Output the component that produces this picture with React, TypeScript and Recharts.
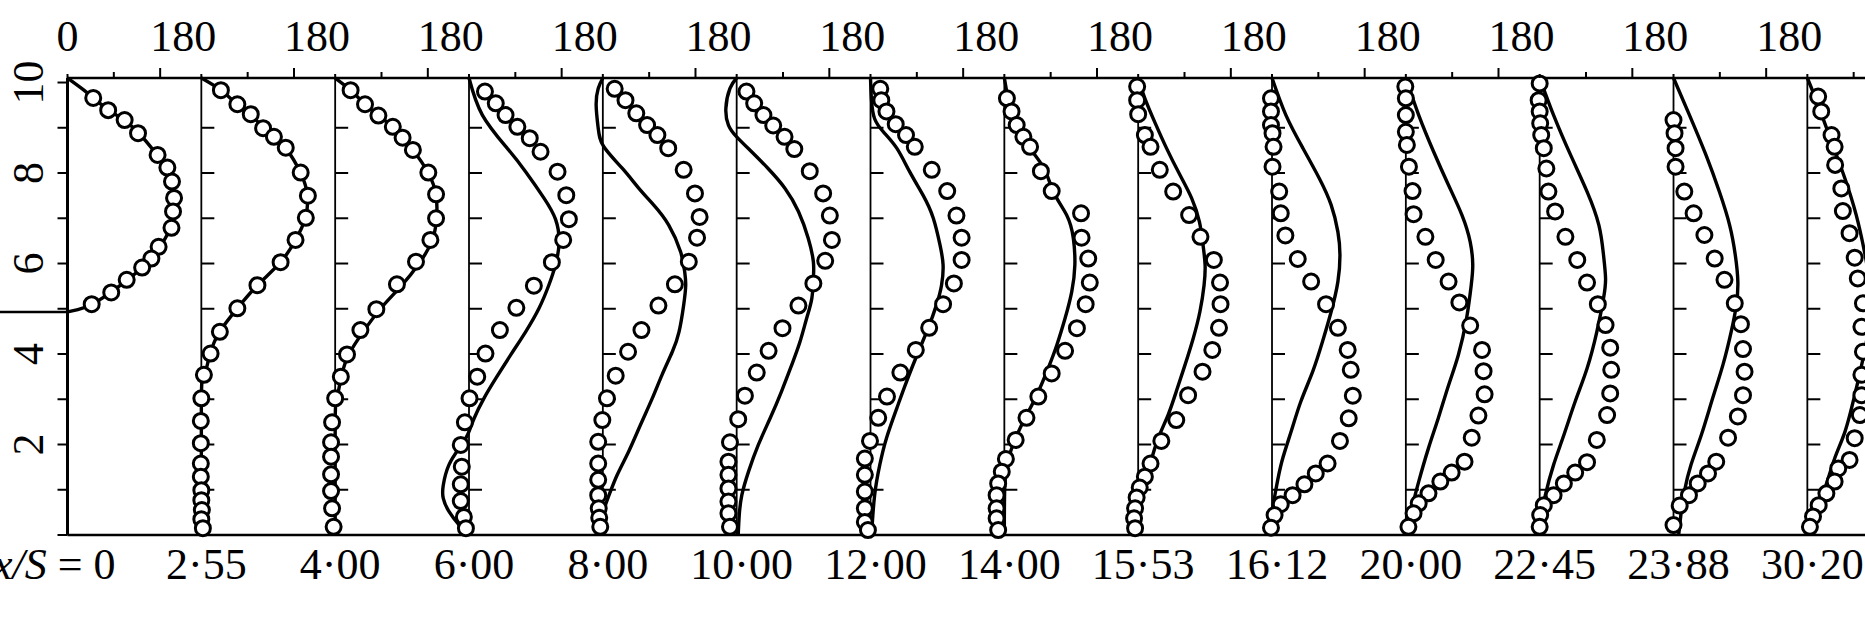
import React from 'react';
import { ComposedChart, XAxis, YAxis, Line, Scatter, ReferenceLine } from 'recharts';

type P = [number, number];

// Stations x/S (bottom labels)
const STATIONS = ['0', '2·55', '4·00', '6·00', '8·00', '10·00', '12·00', '14·00', '15·53', '16·12', '20·00', '22·45', '23·88', '30·20'];
// each profile is shifted right by this many value units
const SPACING = 260;
const X_DOMAIN: [number, number] = [0, 3560];
const Y_DOMAIN: [number, number] = [0, 10.1];
const TOP_TICK_STEPS = [0, 90, 180];
const Y_TICKS = [0, 1, 2, 3, 4, 5, 6, 7, 8, 9, 10];
const Y_LABELS = [2, 4, 6, 8, 10];
const PROFILE_TICKS = [1, 2, 3, 4, 5, 6, 7, 8, 9];
const JET_EDGE = 4.93;

// measured (circles) and computed (line): [value, height]
const measured0: P[] = [[50, 9.66], [79, 9.39], [111, 9.17], [137, 8.88], [175, 8.4], [194, 8.12], [203, 7.81], [207, 7.45], [205, 7.15], [202, 6.79], [177, 6.37], [163, 6.11], [145, 5.91], [115, 5.64], [85, 5.36], [47, 5.1]];
const computed0: P[] = [[0, 10.1], [30, 9.85], [50, 9.66], [79, 9.4], [111, 9.16], [137, 8.9], [160, 8.6], [178, 8.35], [194, 8.1], [203, 7.8], [207, 7.45], [205, 7.1], [196, 6.7], [180, 6.38], [163, 6.12], [145, 5.9], [115, 5.63], [85, 5.37], [47, 5.1], [20, 4.98], [0, 4.93]];

const measured1: P[] = [[38, 9.83], [70, 9.52], [96, 9.3], [120, 8.99], [141, 8.8], [164, 8.56], [193, 8.01], [207, 7.5], [203, 7.01], [183, 6.52], [154, 6.03], [109, 5.52], [70, 5.01], [36, 4.49], [18, 4.01], [5, 3.54], [0, 3.02], [-1, 2.52], [-1, 2.03], [-1, 1.58], [-1, 1.29], [0, 0.99], [0, 0.77], [1, 0.55], [0, 0.35], [3, 0.15]];
const computed1: P[] = [[0, 10.1], [38, 9.83], [70, 9.52], [96, 9.3], [120, 9.0], [141, 8.8], [164, 8.55], [193, 8.0], [206, 7.5], [202, 7.0], [183, 6.52], [154, 6.03], [109, 5.52], [70, 5.01], [36, 4.5], [17, 4.0], [5, 3.5], [0, 3.0], [0, 0]];

const measured2: P[] = [[30, 9.83], [58, 9.52], [84, 9.27], [112, 9.02], [131, 8.78], [151, 8.51], [181, 8.01], [196, 7.53], [196, 7.0], [185, 6.52], [157, 6.04], [120, 5.54], [80, 4.99], [49, 4.53], [23, 3.99], [11, 3.5], [0, 3.02], [-6, 2.49], [-8, 2.05], [-8, 1.73], [-8, 1.34], [-8, 0.97], [-6, 0.59], [-3, 0.18]];
const computed2: P[] = [[0, 10.1], [30, 9.83], [58, 9.52], [84, 9.27], [112, 9.02], [131, 8.78], [151, 8.51], [181, 8.0], [196, 7.5], [197, 7.0], [188, 6.5], [163, 6.0], [128, 5.5], [88, 5.0], [55, 4.5], [27, 4.0], [12, 3.5], [3, 3.0], [0, 2.5], [0, 0]];

const measured3: P[] = [[31, 9.8], [52, 9.54], [71, 9.28], [94, 9.02], [118, 8.77], [139, 8.47], [172, 8.03], [189, 7.51], [194, 6.98], [183, 6.52], [161, 6.03], [126, 5.51], [92, 5.02], [60, 4.53], [32, 4.01], [16, 3.5], [1, 3.02], [-8, 2.49], [-16, 1.99], [-14, 1.51], [-16, 1.12], [-16, 0.75], [-10, 0.4], [-6, 0.15]];
const computed3: P[] = [[0, 10.1], [26, 9.28], [74, 8.55], [110, 8.03], [146, 7.44], [168, 6.98], [175, 6.48], [168, 5.97], [155, 5.52], [136, 5.01], [110, 4.49], [81, 3.98], [52, 3.46], [29, 3.02], [10, 2.58], [-3, 2.21], [-19, 1.92], [-39, 1.55], [-50, 1.1], [-50, 0.81], [-39, 0.52], [-19, 0.22], [0, 0]];

const measured4: P[] = [[23, 9.86], [44, 9.61], [65, 9.32], [86, 9.06], [106, 8.84], [127, 8.55], [157, 8.07], [179, 7.55], [188, 7.03], [183, 6.57], [167, 6.04], [140, 5.54], [108, 5.07], [75, 4.53], [49, 4.05], [25, 3.52], [8, 3.02], [-1, 2.54], [-9, 2.06], [-9, 1.58], [-9, 1.22], [-9, 0.88], [-8, 0.59], [-7, 0.38], [-5, 0.18]];
const computed4: P[] = [[0, 10.1], [-9, 9.87], [-13, 9.5], [-9, 8.99], [2, 8.58], [38, 8.1], [70, 7.66], [99, 7.29], [128, 6.85], [151, 6.26], [159, 5.82], [161, 5.52], [157, 5.08], [148, 4.49], [135, 4.05], [115, 3.54], [96, 3.02], [73, 2.43], [50, 1.84], [28, 1.33], [12, 0.88], [2, 0.52], [0, 0]];

const measured5: P[] = [[19, 9.8], [34, 9.54], [52, 9.28], [71, 9.05], [93, 8.8], [112, 8.53], [142, 8.04], [168, 7.55], [181, 7.06], [185, 6.52], [172, 6.06], [149, 5.56], [120, 5.07], [89, 4.57], [62, 4.07], [39, 3.59], [16, 3.08], [3, 2.56], [-13, 2.05], [-16, 1.62], [-16, 1.33], [-16, 1.03], [-16, 0.74], [-16, 0.48], [-13, 0.18]];
const computed5: P[] = [[0, 10.1], [-13, 9.87], [-21, 9.43], [-16, 9.06], [0, 8.8], [29, 8.47], [61, 8.1], [94, 7.66], [120, 7.15], [139, 6.56], [149, 6.04], [149, 5.67], [146, 5.23], [136, 4.79], [123, 4.27], [107, 3.76], [87, 3.17], [65, 2.58], [42, 1.99], [23, 1.4], [10, 0.88], [5, 0.44], [3, 0]];

const measured6: P[] = [[19, 9.86], [21, 9.61], [31, 9.36], [49, 9.08], [69, 8.84], [86, 8.58], [119, 8.07], [149, 7.6], [167, 7.06], [177, 6.57], [177, 6.08], [162, 5.56], [141, 5.1], [114, 4.58], [88, 4.09], [58, 3.59], [32, 3.06], [15, 2.59], [-1, 2.08], [-11, 1.69], [-11, 1.33], [-11, 0.96], [-11, 0.59], [-11, 0.29], [-5, 0.11]];
const computed6: P[] = [[0, 10.1], [2, 9.6], [8, 9.2], [25, 8.91], [51, 8.55], [76, 8.03], [102, 7.51], [122, 7.0], [135, 6.41], [141, 5.97], [138, 5.52], [128, 5.08], [112, 4.57], [93, 4.05], [70, 3.39], [51, 2.8], [31, 2.14], [18, 1.55], [8, 0.88], [2, 0]];

const measured7: P[] = [[5, 9.65], [14, 9.36], [24, 9.06], [37, 8.8], [50, 8.58], [71, 8.04], [92, 7.6], [149, 7.11], [150, 6.57], [163, 6.11], [166, 5.58], [158, 5.1], [141, 4.57], [118, 4.07], [92, 3.57], [66, 3.06], [43, 2.59], [22, 2.1], [3, 1.68], [-5, 1.4], [-12, 1.14], [-15, 0.88], [-15, 0.59], [-15, 0.37], [-12, 0.11]];
const computed7: P[] = [[0, 10.1], [8, 9.58], [27, 8.91], [73, 8.18], [95, 7.59], [121, 7.07], [134, 6.56], [137, 5.97], [131, 5.38], [118, 4.79], [102, 4.2], [85, 3.68], [63, 3.09], [40, 2.58], [22, 2.14], [8, 1.69], [1, 1.1], [0, 0]];

const measured8: P[] = [[-2, 9.91], [-2, 9.61], [0, 9.3], [13, 8.84], [24, 8.58], [42, 8.07], [68, 7.59], [99, 7.07], [121, 6.59], [147, 6.08], [159, 5.58], [160, 5.1], [157, 4.58], [144, 4.09], [125, 3.61], [97, 3.09], [74, 2.54], [45, 2.08], [24, 1.58], [13, 1.29], [3, 1.05], [-3, 0.83], [-6, 0.59], [-8, 0.37], [-6, 0.15]];
const computed8: P[] = [[0, 10.1], [13, 9.65], [32, 9.13], [55, 8.55], [81, 7.96], [104, 7.44], [119, 6.92], [126, 6.41], [130, 5.97], [128, 5.52], [120, 4.94], [107, 4.35], [91, 3.76], [74, 3.17], [58, 2.65], [39, 2.14], [23, 1.55], [10, 0.96], [3, 0.52], [0, 0]];

const measured9: P[] = [[-2, 9.65], [-2, 9.36], [-2, 9.06], [1, 8.88], [3, 8.58], [1, 8.14], [14, 7.59], [17, 7.11], [26, 6.62], [50, 6.1], [76, 5.6], [105, 5.1], [128, 4.58], [147, 4.09], [153, 3.65], [157, 3.08], [149, 2.58], [132, 2.08], [108, 1.58], [85, 1.36], [63, 1.12], [40, 0.88], [17, 0.68], [5, 0.44], [-2, 0.16]];
const computed9: P[] = [[0, 10.1], [27, 9.28], [60, 8.55], [92, 7.88], [115, 7.29], [128, 6.7], [132, 6.19], [128, 5.6], [115, 4.94], [98, 4.27], [79, 3.61], [56, 2.95], [37, 2.28], [19, 1.62], [8, 1.03], [1, 0.52], [0, 0]];

const measured10: P[] = [[-1, 9.91], [0, 9.65], [0, 9.28], [0, 8.91], [2, 8.62], [6, 8.14], [13, 7.6], [15, 7.09], [38, 6.59], [58, 6.08], [83, 5.6], [104, 5.14], [125, 4.63], [148, 4.09], [151, 3.62], [153, 3.11], [141, 2.64], [128, 2.15], [114, 1.62], [89, 1.38], [67, 1.18], [44, 0.92], [25, 0.7], [15, 0.48], [5, 0.18]];
const computed10: P[] = [[0, 10.1], [25, 9.28], [54, 8.47], [83, 7.73], [109, 7.07], [125, 6.48], [130, 5.97], [127, 5.52], [118, 4.79], [102, 3.98], [83, 3.31], [63, 2.58], [44, 1.92], [25, 1.18], [12, 0.59], [2, 0]];

const measured11: P[] = [[0, 9.98], [-2, 9.61], [0, 9.36], [1, 9.1], [3, 8.84], [8, 8.55], [13, 8.1], [17, 7.59], [30, 7.15], [50, 6.59], [73, 6.08], [92, 5.58], [113, 5.1], [128, 4.64], [137, 4.14], [139, 3.65], [137, 3.13], [131, 2.65], [111, 2.1], [92, 1.61], [69, 1.38], [47, 1.14], [27, 0.88], [8, 0.66], [1, 0.44], [0, 0.18]];
const computed11: P[] = [[0, 10.1], [27, 9.28], [60, 8.4], [92, 7.59], [115, 6.85], [124, 6.19], [128, 5.67], [124, 5.23], [111, 4.49], [92, 3.68], [69, 2.95], [47, 2.21], [27, 1.55], [11, 0.88], [3, 0.37], [0, 0]];

const measured12: P[] = [[0, 9.17], [2, 8.88], [4, 8.55], [4, 8.14], [21, 7.59], [39, 7.11], [60, 6.63], [80, 6.11], [99, 5.64], [119, 5.12], [131, 4.66], [135, 4.11], [138, 3.61], [135, 3.09], [125, 2.62], [106, 2.15], [83, 1.62], [67, 1.36], [47, 1.14], [30, 0.88], [12, 0.65], [0, 0.22]];
const computed12: P[] = [[0, 10.1], [31, 9.28], [63, 8.4], [89, 7.59], [109, 6.85], [120, 6.19], [125, 5.6], [122, 5.08], [112, 4.49], [96, 3.76], [76, 3.02], [54, 2.21], [34, 1.55], [21, 0.96], [15, 0.52], [10, 0]];

const measured13: P[] = [[21, 9.69], [27, 9.36], [47, 8.84], [53, 8.58], [54, 8.18], [66, 7.66], [69, 7.16], [82, 6.67], [92, 6.13], [98, 5.67], [108, 5.12], [105, 4.6], [108, 4.05], [105, 3.54], [105, 3.09], [102, 2.65], [92, 2.14], [82, 1.66], [60, 1.47], [53, 1.18], [37, 0.92], [22, 0.66], [11, 0.41], [5, 0.18]];
const computed13: P[] = [[0, 10.1], [21, 9.5], [47, 8.69], [73, 7.88], [95, 7.07], [111, 6.26], [121, 5.52], [121, 4.79], [111, 4.05], [92, 3.09], [73, 2.28], [53, 1.69], [34, 1.03], [17, 0.52], [11, 0]];

const MEASURED = [measured0, measured1, measured2, measured3, measured4, measured5, measured6, measured7, measured8, measured9, measured10, measured11, measured12, measured13];
const COMPUTED = [computed0, computed1, computed2, computed3, computed4, computed5, computed6, computed7, computed8, computed9, computed10, computed11, computed12, computed13];

const FONT = '"Liberation Serif", "DejaVu Serif", serif';
const Y_AXIS_WIDTH = 67.5;
const LABEL_SHIFT_180 = 23;

const toXY = (pts: P[], i: number) => pts.map(([v, h]) => ({ x: i * SPACING + v, y: h }));

const topTicks: number[] = [];
STATIONS.forEach((_, i) => TOP_TICK_STEPS.forEach((s) => topTicks.push(i * SPACING + s)));
const bottomTicks = STATIONS.map((_, i) => i * SPACING);
const profileTickData: { x: number; y: number }[] = [];
STATIONS.forEach((_, i) => {
  if (i > 0) PROFILE_TICKS.forEach((k) => profileTickData.push({ x: i * SPACING, y: k }));
});

const TopTick = (props: any) => {
  const { x, y, payload } = props;
  const v = Math.round(payload.value);
  const local = v % SPACING;
  const len = local === 180 ? 10 : local === 90 ? 6 : 4;
  const label = local === 180 ? '180' : v === 0 ? '0' : '';
  return (
    <g>
      <line x1={x} y1={y} x2={x} y2={y - len} stroke="#000" strokeWidth={2} />
      {label ? (
        <text x={x + (local === 180 ? LABEL_SHIFT_180 : 0)} y={y - 27} textAnchor="middle" fontFamily={FONT} fontSize={44} fill="#000">
          {label}
        </text>
      ) : null}
    </g>
  );
};

const BottomTick = (props: any) => {
  const { x, y, payload } = props;
  const i = Math.round(payload.value / SPACING);
  if (i === 0) {
    return (
      <text x={x + 48} y={y + 44} textAnchor="end" fontFamily={FONT} fontSize={44} fill="#000">
        <tspan fontStyle="italic">x/S</tspan>
        <tspan> = {STATIONS[0]}</tspan>
      </text>
    );
  }
  return (
    <text x={x + 5} y={y + 44} textAnchor="middle" fontFamily={FONT} fontSize={44} fill="#000">
      {STATIONS[i]}
    </text>
  );
};

const LeftTick = (props: any) => {
  const { x, y, payload } = props;
  const v = payload.value;
  if (v === JET_EDGE) {
    return <line x1={x - Y_AXIS_WIDTH} x2={x} y1={y} y2={y} stroke="#000" strokeWidth={2.5} />;
  }
  const lx = x - 24;
  return (
    <g>
      <line x1={x - 10} x2={x} y1={y} y2={y} stroke="#000" strokeWidth={2} />
      {Y_LABELS.includes(v) ? (
        <text x={lx} y={y} transform={`rotate(-90 ${lx} ${y})`} textAnchor="middle" fontFamily={FONT} fontSize={44} fill="#000">
          {v}
        </text>
      ) : null}
    </g>
  );
};

const Ring = (props: any) => (
  <circle cx={props.cx} cy={props.cy} r={7.5} fill="#fff" stroke="#000" strokeWidth={3} />
);

const InnerTick = (props: any) => (
  <line x1={props.cx} y1={props.cy} x2={props.cx + 13} y2={props.cy} stroke="#000" strokeWidth={2} />
);

export default function App() {
  return (
    <div style={{ position: 'absolute', left: 0, top: 0, width: 1865, height: 623, overflow: 'hidden', background: '#fff' }}>
      <ComposedChart width={1900} height={623} margin={{ top: 0, right: 0, bottom: 0, left: 0 }}>
        <XAxis
          xAxisId="top"
          orientation="top"
          type="number"
          dataKey="x"
          domain={X_DOMAIN}
          ticks={topTicks}
          interval={0}
          height={78}
          tickSize={0}
          tickMargin={0}
          tickLine={false}
          axisLine={{ stroke: '#000', strokeWidth: 2.5 }}
          tick={<TopTick />}
        />
        <XAxis
          xAxisId="bottom"
          orientation="bottom"
          type="number"
          dataKey="x"
          domain={X_DOMAIN}
          ticks={bottomTicks}
          interval={0}
          height={88}
          tickSize={0}
          tickMargin={0}
          tickLine={false}
          axisLine={{ stroke: '#000', strokeWidth: 2.5 }}
          tick={<BottomTick />}
        />
        <YAxis
          type="number"
          dataKey="y"
          domain={Y_DOMAIN}
          ticks={[...Y_TICKS, JET_EDGE]}
          interval={0}
          width={Y_AXIS_WIDTH}
          tickSize={0}
          tickMargin={0}
          tickLine={false}
          axisLine={{ stroke: '#000', strokeWidth: 3 }}
          tick={<LeftTick />}
        />
        {STATIONS.map((_, i) =>
          i > 0 ? (
            <ReferenceLine key={`ax${i}`} xAxisId="bottom" x={i * SPACING} stroke="#000" strokeWidth={1.8} />
          ) : null
        )}
        <Scatter xAxisId="bottom" data={profileTickData} shape={<InnerTick />} isAnimationActive={false} />
        {COMPUTED.map((pts, i) => (
          <Line
            key={`c${i}`}
            xAxisId="top"
            data={toXY(pts, i)}
            dataKey="y"
            type="natural"
            stroke="#000"
            strokeWidth={3.4}
            dot={false}
            activeDot={false}
            isAnimationActive={false}
          />
        ))}
        {MEASURED.map((pts, i) => (
          <Scatter key={`m${i}`} xAxisId="top" data={toXY(pts, i)} shape={<Ring />} isAnimationActive={false} />
        ))}
      </ComposedChart>
    </div>
  );
}
